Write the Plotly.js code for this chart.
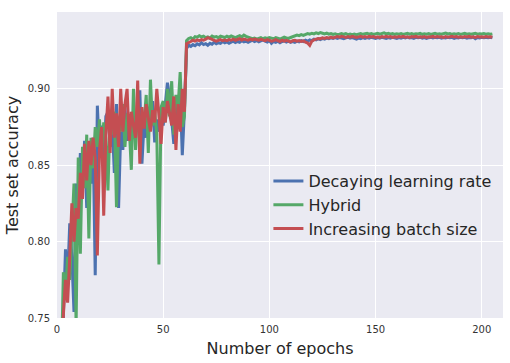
<!DOCTYPE html>
<html>
<head>
<meta charset="utf-8">
<script src="https://cdn.plot.ly/plotly-3.0.1.min.js"></script>
<style>html,body{margin:0;padding:0;background:#fff;}#chart{width:510px;height:363px;}</style>
</head>
<body>
<div id="chart"></div>
<script>
var seriesNames = ["Decaying learning rate", "Hybrid", "Increasing batch size"];
var seriesColors = ["#4C72B0", "#55A868", "#C44E52"];

var decayingLR = [
0.60,0.68,0.752,0.795,0.775,0.812,0.79,0.754,0.838,0.825,
0.858,0.842,0.866,0.822,0.86,0.838,0.868,0.778,0.889,0.858,
0.876,0.852,0.882,0.885,0.862,0.878,0.845,0.89,0.822,0.872,
0.86,0.888,0.866,0.878,0.87,0.885,0.872,0.88,0.899,0.851,
0.878,0.868,0.886,0.874,0.892,0.865,0.88,0.872,0.888,0.876,
0.89,0.904,0.895,0.878,0.864,0.89,0.882,0.898,0.8565,0.886,
0.9265,0.9285,0.9278,0.929,0.9282,0.9295,0.9288,0.9302,0.929,0.9296,
0.9285,0.9298,0.9292,0.9305,0.9295,0.9302,0.9298,0.931,0.9302,0.9308,
0.9298,0.9306,0.9312,0.9303,0.931,0.9305,0.9315,0.9308,0.9312,0.9304,
0.9312,0.9318,0.931,0.9316,0.9308,0.9314,0.932,0.9312,0.9306,0.9316,
0.9298,0.931,0.9305,0.9312,0.9302,0.931,0.9315,0.9306,0.9312,0.9304,
0.931,0.9305,0.9312,0.9308,0.9315,0.931,0.9318,0.9312,0.932,0.9316,
0.9325,0.932,0.9328,0.9322,0.933,0.9326,0.9332,0.9328,0.9334,0.933,
0.9335,0.933,0.9336,0.9332,0.9328,0.9334,0.9338,0.9332,0.9336,0.933,
0.9326,0.9332,0.9328,0.9335,0.933,0.9336,0.9332,0.9338,0.9334,0.933,
0.9336,0.9332,0.9338,0.9334,0.933,0.9336,0.9332,0.9338,0.9335,0.933,
0.9336,0.9332,0.9337,0.9334,0.9339,0.9333,0.9336,0.9331,0.9337,0.9334,
0.9338,0.9332,0.9336,0.933,0.9335,0.9338,0.9333,0.9337,0.9334,0.9338,
0.9332,0.9336,0.9333,0.9338,0.9334,0.9337,0.9331,0.9336,0.9333,0.9338,
0.9334,0.9337,0.9332,0.9336,0.9334,0.9339,0.9328,0.9336,0.9333,0.9337,
0.9334,0.9338,0.9335,0.9337,0.9334
];

var hybrid = [
0.65,0.72,0.78,0.765,0.79,0.775,0.81,0.838,0.745,0.855,
0.792,0.862,0.835,0.87,0.802,0.868,0.848,0.875,0.862,0.88,
0.856,0.878,0.868,0.8335,0.882,0.87,0.885,0.8225,0.876,0.872,
0.89,0.862,0.884,0.875,0.847,0.9,0.86,0.888,0.87,0.882,
0.878,0.896,0.858,0.906,0.876,0.885,0.87,0.785,0.888,0.892,
0.878,0.9,0.882,0.905,0.87,0.896,0.888,0.911,0.875,0.882,
0.9315,0.933,0.9335,0.9325,0.9342,0.9338,0.9348,0.934,0.9345,0.9335,
0.934,0.9332,0.9345,0.9338,0.9342,0.9335,0.9345,0.934,0.9336,0.9344,
0.9338,0.9346,0.934,0.9335,0.9342,0.9348,0.934,0.9352,0.9344,0.9338,
0.9335,0.9328,0.9332,0.9325,0.933,0.9335,0.9328,0.9334,0.933,0.9336,
0.9332,0.9328,0.9335,0.933,0.9326,0.9332,0.9338,0.9334,0.933,0.9336,
0.934,0.9345,0.9352,0.9348,0.9355,0.935,0.9358,0.9362,0.9358,0.9364,
0.936,0.9366,0.9362,0.9368,0.9364,0.936,0.9365,0.9358,0.9362,0.9356,
0.936,0.9355,0.9358,0.9362,0.9357,0.9361,0.9355,0.9359,0.9354,0.9358,
0.9355,0.9359,0.9362,0.9357,0.936,0.9364,0.9358,0.9362,0.9356,0.936,
0.9363,0.9358,0.9362,0.9366,0.936,0.9364,0.9358,0.9362,0.9357,0.9361,
0.9358,0.9362,0.9356,0.936,0.9364,0.9358,0.9362,0.9357,0.9361,0.9359,
0.9363,0.9357,0.9361,0.9358,0.9362,0.9356,0.936,0.9364,0.9358,0.9361,
0.9357,0.9361,0.9365,0.9359,0.9362,0.9357,0.9361,0.9358,0.9362,0.9356,
0.936,0.9364,0.9358,0.9361,0.9357,0.936,0.9363,0.9358,0.9361,0.9359,
0.9362,0.9358,0.9361,0.9357,0.936
];

var increasingBS = [
0.66,0.71,0.752,0.775,0.76,0.79,0.825,0.80,0.822,0.815,
0.845,0.828,0.864,0.84,0.866,0.85,0.868,0.855,0.791,0.86,
0.875,0.817,0.87,0.895,0.858,0.9,0.868,0.884,0.862,0.9,
0.872,0.89,0.9,0.866,0.885,0.876,0.868,0.9055,0.851,0.888,
0.874,0.89,0.88,0.872,0.886,0.878,0.9,0.88,0.864,0.888,
0.878,0.892,0.884,0.876,0.895,0.86,0.89,0.872,0.9,0.885,
0.9295,0.9305,0.931,0.9318,0.9312,0.932,0.9315,0.9322,0.9318,0.9325,
0.9335,0.933,0.9322,0.9318,0.9312,0.9316,0.9322,0.9315,0.932,0.9316,
0.9322,0.9318,0.9325,0.9318,0.9322,0.9328,0.932,0.9326,0.9322,0.9318,
0.9325,0.932,0.9326,0.9322,0.9318,0.9324,0.932,0.9316,0.9322,0.9318,
0.9312,0.9316,0.9322,0.9315,0.931,0.9318,0.9312,0.9318,0.9314,0.9308,
0.9315,0.9318,0.9312,0.9316,0.931,0.9314,0.9305,0.93,0.9285,0.9312,
0.932,0.9326,0.933,0.9328,0.9334,0.933,0.9336,0.9332,0.9338,0.9334,
0.9338,0.9342,0.9338,0.9344,0.934,0.9336,0.9342,0.9338,0.9343,0.9339,
0.9336,0.934,0.9344,0.9338,0.9342,0.9338,0.9343,0.9339,0.9342,0.9337,
0.9341,0.9337,0.9342,0.9338,0.9343,0.9339,0.9342,0.9337,0.9341,0.9338,
0.9342,0.9339,0.9343,0.9338,0.9341,0.9337,0.9342,0.9339,0.9343,0.9338,
0.9341,0.9338,0.9342,0.9337,0.9341,0.9339,0.9343,0.9338,0.9342,0.9339,
0.9341,0.9337,0.9342,0.9338,0.9341,0.9344,0.9339,0.9342,0.9338,0.9341,
0.9338,0.9342,0.9339,0.9343,0.9338,0.9341,0.9337,0.9342,0.9339,0.9341,
0.9338,0.9342,0.9339,0.9341,0.9338
];

var xTickVals = [0, 50, 100, 150, 200];
var yTickVals = [0.75, 0.80, 0.85, 0.90];

var allSeries = [decayingLR, hybrid, increasingBS];
var epochs = [];
for (var i = 0; i < decayingLR.length; i++) epochs.push(i + 1);

var font = "DejaVu Sans, Liberation Sans, sans-serif";
var traces = allSeries.map(function (ys, k) {
  return {
    x: epochs, y: ys, type: "scatter", mode: "lines",
    name: seriesNames[k],
    line: {color: seriesColors[k], width: 3}
  };
});

var layout = {
  width: 510, height: 363,
  margin: {l: 57, r: 7, t: 12, b: 45, pad: 0},
  paper_bgcolor: "#ffffff",
  plot_bgcolor: "#EAEAF2",
  font: {family: font, color: "#262626"},
  showlegend: true,
  legend: {
    x: 0.474, y: 0.369, xanchor: "left", yanchor: "middle",
    bgcolor: "rgba(0,0,0,0)", font: {size: 16, family: font, color: "#262626"},
    itemwidth: 30
  },
  xaxis: {
    range: [0, 210], tickvals: xTickVals, ticktext: xTickVals.map(String),
    showgrid: true, gridcolor: "#ffffff", gridwidth: 1.3,
    zeroline: false, showline: false, ticks: "",
    ticklabelstandoff: 4,
    tickfont: {size: 10, color: "#333333"},
    title: {text: "Number of epochs", font: {size: 16, color: "#262626"}, standoff: 8}
  },
  yaxis: {
    range: [0.75, 0.9503], tickvals: yTickVals, ticktext: yTickVals.map(function (v) { return v.toFixed(2); }),
    showgrid: true, gridcolor: "#ffffff", gridwidth: 1.3,
    zeroline: false, showline: false, ticks: "",
    ticklabelstandoff: 6,
    tickfont: {size: 10, color: "#333333"},
    title: {text: "Test set accuracy", font: {size: 16, color: "#262626"}, standoff: 5}
  }
};

Plotly.newPlot("chart", traces, layout, {displayModeBar: false, staticPlot: true});
</script>
</body>
</html>
